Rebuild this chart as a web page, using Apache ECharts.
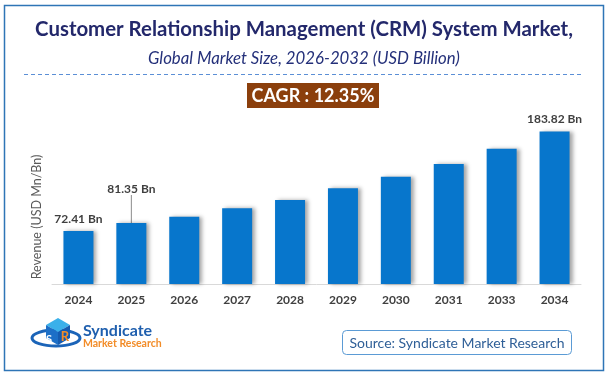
<!DOCTYPE html>
<html>
<head>
<meta charset="utf-8">
<script src="https://cdn.jsdelivr.net/npm/echarts@6/dist/echarts.min.js"></script>
<style>
  html, body { margin: 0; padding: 0; background: #fff; }
  #main { width: 608px; height: 377px; }
</style>
</head>
<body>
<div id="main"></div>
<script>
// 数据
var years = ['2024', '2025', '2026', '2027', '2028', '2029', '2030', '2031', '2033', '2034'];
var revenue = [72.41, 81.35, 88.4, 97.8, 107.2, 120.3, 133.3, 147.5, 164.7, 183.82];
var barLabels = ['72.41 Bn', '81.35 Bn', '', '', '', '', '', '', '', '183.82 Bn'];
var cagrText = 'CAGR : 12.35%';

var FONT = 'Lato';
var chart = echarts.init(document.getElementById('main'), null, { renderer: 'canvas' });

// 柱子数据，只给有标签的柱子显示标签
var barData = revenue.map(function (v, i) {
  return {
    value: v,
    label: { show: barLabels[i] !== '' },
    labelLine: { show: i === 1 }
  };
});

var option = {
  backgroundColor: '#fff',
  animation: false,
  title: [
    {
      text: 'Customer Relationship Management (CRM) System Market,',
      left: 'center',
      top: 14,
      textStyle: { fontFamily: FONT, fontSize: 20.4, fontWeight: 'bold', color: '#23286b' }
    },
    {
      text: 'Global Market Size, 2026-2032 (USD Billion)',
      left: 'center',
      top: 45,
      textStyle: { fontFamily: FONT, fontSize: 16.8, fontStyle: 'italic', fontWeight: 'normal', color: '#24307a' }
    }
  ],
  grid: { left: 52, right: 27, top: 110, bottom: 93 },
  xAxis: {
    type: 'category',
    data: years,
    axisLine: { lineStyle: { color: '#d9d9d9' } },
    axisTick: { show: false },
    axisLabel: { color: '#404040', fontFamily: FONT, fontSize: 12, fontWeight: 'bold', margin: 10 }
  },
  yAxis: {
    type: 'value',
    min: 13,
    max: 208,
    axisLine: { show: false },
    axisTick: { show: false },
    axisLabel: { show: false },
    splitLine: { show: false }
  },
  series: [
    {
      type: 'bar',
      data: barData,
      barWidth: 30,
      itemStyle: {
        color: '#0776cc',
        shadowColor: 'rgba(0,0,0,0.35)',
        shadowBlur: 4,
        shadowOffsetX: 3
      },
      label: {
        show: true,
        position: 'top',
        distance: 6,
        color: '#404040',
        fontFamily: FONT,
        fontSize: 12,
        fontWeight: 'bold',
        formatter: function (p) { return barLabels[p.dataIndex]; }
      },
      labelLine: { show: false, lineStyle: { color: '#8c8c8c', width: 1 } },
      labelLayout: function (p) {
        if (p.dataIndex === 1) return { dy: -22 };
        return {};
      }
    }
  ],
  graphic: [
    // 外框
    { type: 'rect', shape: { x: 4.5, y: 5.5, width: 599, height: 365 }, style: { fill: 'none', stroke: '#2e75b6', lineWidth: 1.5 }, silent: true },
    // 虚线
    { type: 'line', shape: { x1: 24, y1: 74.5, x2: 582, y2: 74.5 }, style: { stroke: '#5b8fd6', lineWidth: 1, lineDash: [4, 3] } },
    // y轴名称
    { type: 'text', x: 37, y: 217, rotation: Math.PI / 2, style: { text: 'Revenue (USD Mn/Bn)', fill: '#595959', font: '12.5px ' + FONT, align: 'center', verticalAlign: 'middle' } },
    // CAGR
    { type: 'rect', shape: { x: 247, y: 83, width: 132, height: 25 }, style: { fill: '#8b3f0c' } },
    { type: 'text', x: 313, y: 96, style: { text: cagrText, fill: '#fff', font: 'bold 18px ' + FONT, align: 'center', verticalAlign: 'middle' } },
    // 来源
    { type: 'rect', shape: { x: 342.5, y: 330.5, width: 229, height: 24, r: 4 }, style: { fill: '#fff', stroke: '#5b9bd5', lineWidth: 1 } },
    { type: 'text', x: 457, y: 343, style: { text: 'Source: Syndicate Market Research', fill: '#2f5f97', font: '14px ' + FONT, align: 'center', verticalAlign: 'middle' } },
    // logo
    { type: 'ellipse', shape: { cx: 56, cy: 338, rx: 24, ry: 8 }, style: { fill: 'none', stroke: '#1b64b8', lineWidth: 3 } },
    { type: 'polygon', shape: { points: [[46, 325], [58, 318], [70, 325], [58, 332]] }, style: { fill: '#3ab0ea' } },
    { type: 'polygon', shape: { points: [[46, 325], [58, 332], [58, 345], [46, 338]] }, style: { fill: '#1c6fc7' } },
    { type: 'polygon', shape: { points: [[58, 332], [70, 325], [70, 338], [58, 345]] }, style: { fill: '#155bb0' } },
    { type: 'text', x: 49, y: 339, style: { text: 'S', fill: '#fff', font: 'bold 11px ' + FONT, align: 'center', verticalAlign: 'middle' } },
    { type: 'text', x: 65, y: 337, style: { text: 'R', fill: '#f28c28', font: 'bold 13px ' + FONT, align: 'center', verticalAlign: 'middle' } },
    { type: 'text', x: 83, y: 331, style: { text: 'Syndicate', fill: '#1f5fae', font: 'bold 16px ' + FONT, verticalAlign: 'middle' } },
    { type: 'text', x: 83, y: 344, style: { text: 'Market Research', fill: '#f28c28', font: 'bold 10.5px ' + FONT, verticalAlign: 'middle' } }
  ]
};

chart.setOption(option);
</script>
</body>
</html>
